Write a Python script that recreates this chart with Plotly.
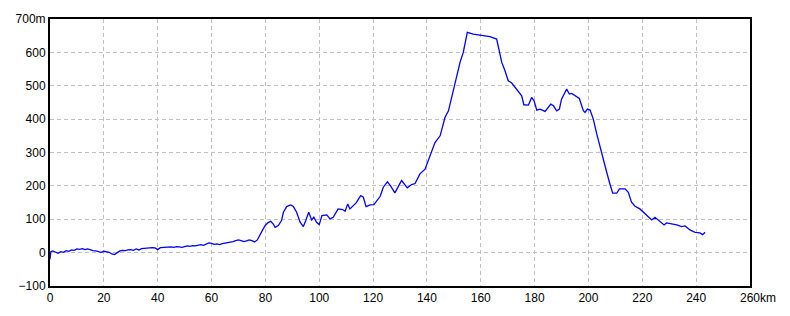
import plotly.graph_objects as go

distance_km = [0, 0.3, 1, 2, 3, 4, 5, 6, 7, 8, 9, 10, 11, 12, 13, 14, 15, 16, 17, 18, 19,
               20, 21, 22, 23, 24, 25, 26, 27, 28, 29, 30, 31, 32, 33, 34, 35, 36, 37, 38, 39,
               40, 41, 42, 43, 44, 45, 46, 47, 48, 49, 50, 51, 52, 53, 54, 55, 56, 57, 58, 59,
               60, 61, 62, 63, 64, 65, 66, 67, 68, 69, 70, 71, 72, 73, 74, 75, 76, 77, 78, 79,
               80, 81, 82, 83, 83.6, 84.8, 86, 86.7, 87.9, 89.4, 90.4, 91.6, 92.9, 94.1, 95,
               96.1, 97.2, 98, 99, 100, 101, 102.8, 104, 105.2, 107, 108.7, 109.6, 110.6, 111.4,
               113.7, 115.4, 116.4, 117.4, 118.9, 120.3, 121.6, 122.6, 123.8, 125.3, 126.5,
               128.1, 129.5, 130.6, 132.7, 134.3, 135.6, 137.4, 139.3, 141.1, 143, 144.9, 146.7,
               148, 149.8, 151, 152.3, 153.5, 154.1, 155, 157.2, 159.7, 163.4, 165.9, 166.9,
               167.8, 169, 170.2, 171.5, 172.7, 174, 175.2, 176, 177.7, 178.9, 179.8, 180.8,
               182, 183.9, 185.1, 186, 187, 188.2, 189.2, 190, 191.9, 192.9, 193.8, 195, 196.6,
               197.1, 198.1, 198.7, 199.6, 200.6, 201.8, 203.1, 204.3, 205.5, 206.8, 208, 209,
               210.5, 211.5, 213.6, 214.8, 216, 217.3, 219.1, 221, 223.5, 224.7, 226, 228.1,
               229, 231.5, 232.8, 234.6, 235.9, 237.7, 239.6, 241.4, 242.4, 242.7, 243.3]

elevation_m = [-20, 3, 5, 2, -2, 3, 1, 6, 4, 8, 7, 11, 10, 12, 9, 11, 8, 6, 5, 3, 1,
               4, 3, 1, -4, -6, 0, 5, 7, 6, 8, 9, 7, 11, 8, 12, 13, 14, 13, 15, 14,
               9, 15, 16, 15, 17, 17, 16, 18, 17, 16, 18, 20, 19, 21, 20, 22, 24, 22, 26, 29,
               28, 25, 26, 24, 27, 28, 30, 31, 33, 36, 38, 36, 33, 35, 38, 36, 32, 38, 55, 68,
               82, 90, 94, 85, 76, 81, 96, 121, 138, 143, 138, 121, 91, 78, 96,
               121, 98, 106, 91, 84, 111, 113, 101, 106, 131, 129, 124, 146, 131,
               149, 171, 166, 138, 143, 144, 158, 168, 196, 212, 200,
               179, 200, 216, 194, 204, 207, 236, 250, 290, 330, 350, 405,
               425, 485, 520, 570, 600, 625, 660, 655, 651, 647, 640, 605,
               570, 545, 515, 508, 495, 483, 470, 443, 442, 465, 455, 427,
               430, 423, 437, 445, 440, 425, 430, 460, 490, 475, 477, 470, 462,
               450, 425, 420, 430, 427, 400, 355, 315, 275, 240, 205, 178,
               178, 191, 191, 181, 151, 139, 131, 116, 98, 106, 98, 83,
               89, 86, 83, 78, 80, 68, 61, 59, 54, 56, 61]

x_tick_values = [0, 20, 40, 60, 80, 100, 120, 140, 160, 180, 200, 220, 240, 260]
x_tick_labels = ["0", "20", "40", "60", "80", "100", "120", "140", "160", "180", "200", "220", "240", "260"]
y_tick_values = [-100, 0, 100, 200, 300, 400, 500, 600, 700]
y_tick_labels = ["\u2212100", "0", "100", "200", "300", "400", "500", "600", "700m"]

font = dict(family="Liberation Sans, Arial, sans-serif", size=12, color="black")

fig = go.Figure()
fig.add_trace(go.Scatter(x=distance_km, y=elevation_m, mode="lines",
                         line=dict(color="#0000ff", width=1.3), hoverinfo="skip"))

fig.update_layout(
    width=790, height=316,
    margin=dict(l=50, r=40, t=19, b=30),
    paper_bgcolor="white", plot_bgcolor="white",
    showlegend=False, font=font,
)
fig.update_xaxes(range=[0, 260], tickvals=x_tick_values, ticktext=x_tick_labels,
                 showgrid=True, gridcolor="#c0c0c0", griddash="4px,3px", gridwidth=1,
                 zeroline=False, showline=True, linecolor="black", linewidth=2, mirror=True,
                 ticks="", tickfont=font)
fig.update_yaxes(range=[-100, 700], tickvals=y_tick_values, ticktext=y_tick_labels,
                 showgrid=True, gridcolor="#c0c0c0", griddash="4px,3px", gridwidth=1,
                 zeroline=False, showline=True, linecolor="black", linewidth=2, mirror=True,
                 ticks="", tickfont=font)
fig.add_annotation(x=260, y=0, xref="x", yref="paper", text="km", showarrow=False,
                   xanchor="left", yanchor="top", xshift=8, yshift=-3, font=font)

fig.write_html("out.html")
